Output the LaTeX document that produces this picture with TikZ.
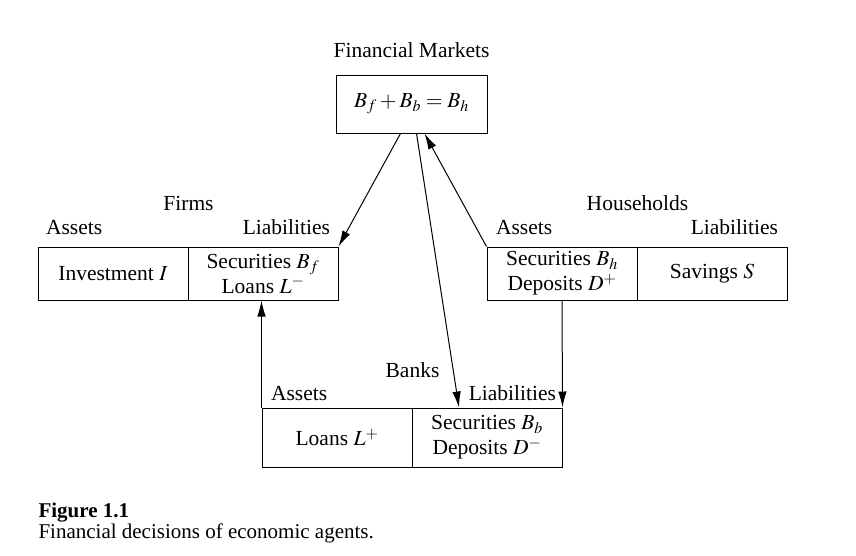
\documentclass[tikz,border=0pt]{standalone}
\usepackage{mathptmx}
\usepackage{fontspec}
\setmainfont{Liberation Serif}
\usepackage{tikz}
\usetikzlibrary{positioning,arrows.meta}
\tikzset{every picture/.style={line width=1pt}}
\tikzset{
  cell/.style={draw, minimum width=150pt, minimum height=53pt, align=center, inner sep=0pt,
    font=\fontsize{21.5}{25}\selectfont},
  side/.style={inner sep=0pt},
}

\begin{document}
\begin{tikzpicture}[x=1pt, y=-1pt, >={Latex[length=16pt,width=8.5pt]}, font=\fontsize{21.5}{21}\selectfont]
        \useasboundingbox (0,0) rectangle (856,555);
        % mercado financeiro
        \node[cell, minimum width=151pt, minimum height=58pt] (fm) at (411.5,104) {$B_f+B_b=B_h$};
        \node[side, above=16pt of fm] (fmtitle) {Financial Markets};
        % empresas
        \node[cell] (firmA) at (113,273.5) {Investment $I$};
        \node[cell] (firmL) at (263,273.5) {Securities $B_f$\\Loans $L^-$};
        \node[side, above=35pt of firmA.north east] (firmtitle) {Firms};
        \node[side, above right=11pt and 8pt of firmA.north west] (firmassets) {Assets};
        \node[side, above left=11pt and 8pt of firmL.north east] (firmliab) {Liabilities};
        % famílias
        \node[cell] (hhA) at (562,273.5) {Securities $B_h$\\Deposits $D^+$};
        \node[cell] (hhL) at (712,273.5) {Savings $S$};
        \node[side, above=35pt of hhA.north east] (hhtitle) {Households};
        \node[side, above right=11pt and 9pt of hhA.north west] (hhassets) {Assets};
        \node[side, above left=11pt and 9pt of hhL.north east] (hhliab) {Liabilities};
        % bancos
        \node[cell, minimum height=59pt] (bankA) at (337,437.5) {Loans $L^+$};
        \node[cell, minimum height=59pt] (bankL) at (487,437.5) {Securities $B_b$\\Deposits $D^-$};
        \node[side, above=29pt of bankA.north east] (banktitle) {Banks};
        \node[side, above right=6pt and 9pt of bankA.north west] (bankassets) {Assets};
        \node[side, above left=6pt and 6pt of bankL.north east] (bankliab) {Liabilities};
        % fluxos
        \draw[->] ([xshift=-11pt]fm.south) -- (firmL.north east);
        \draw[->] (hhA.north west) -- ([xshift=13pt]fm.south);
        \draw[->] ([xshift=5pt]fm.south) -- ([xshift=-28pt]bankL.north);
        \draw[->] (hhA.south) -- (bankL.north east);
        \draw[->] (bankA.north west) -- (bankA.north west |- firmL.south);
        % legenda
        \node[side, anchor=north west, align=left, font=\fontsize{21}{21}\selectfont] (caption) at (38,502) {\textbf{Figure 1.1}\\Financial decisions of economic agents.};
\end{tikzpicture}
\end{document}
